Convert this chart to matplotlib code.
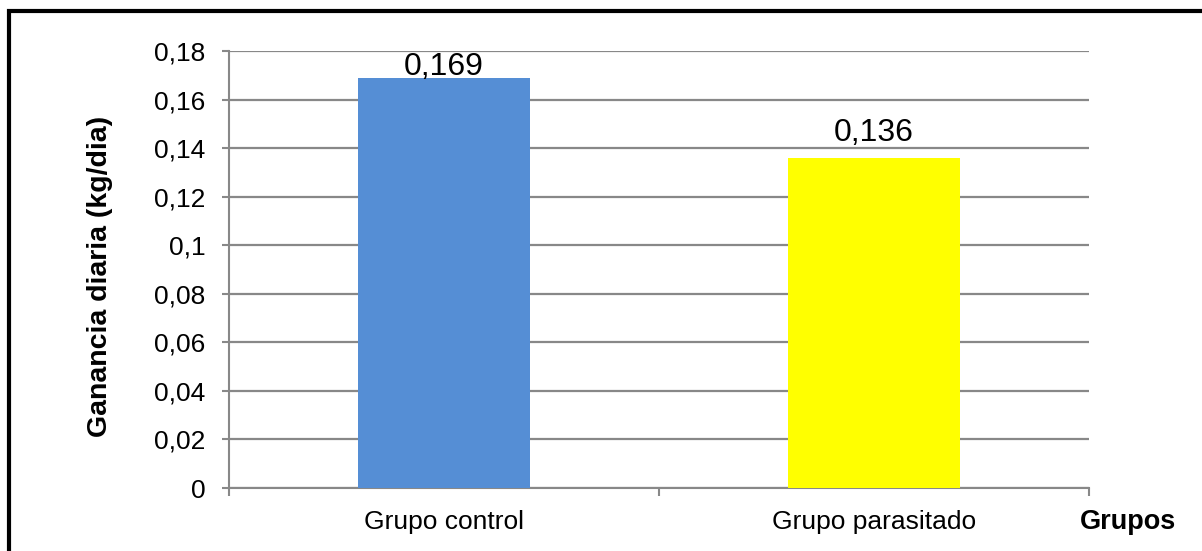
import matplotlib
matplotlib.use("Agg")
import matplotlib.pyplot as plt
from matplotlib.patches import Rectangle

plt.rcParams["font.family"] = ["Liberation Sans", "DejaVu Sans"]

# data
grupos = ["Grupo control", "Grupo parasitado"]
ganancia = [0.169, 0.136]
etiquetas = ["0,169", "0,136"]
colores = ["#558ED5", "#FFFF00"]
y_ticks = [0, 0.02, 0.04, 0.06, 0.08, 0.1, 0.12, 0.14, 0.16, 0.18]
y_tick_labels = ["0", "0,02", "0,04", "0,06", "0,08", "0,1", "0,12", "0,14", "0,16", "0,18"]

W, H = 1202, 551
fig = plt.figure(figsize=(W / 100, H / 100), dpi=100)
ax = fig.add_axes([229 / W, 1 - 488 / H, (1089 - 229) / W, (488 - 51) / H])

x = list(range(len(grupos)))
ax.bar(x, ganancia, width=0.4, color=colores, zorder=3)

ax.set_xlim(-0.5, 1.5)
ax.set_ylim(0, 0.18)
ax.set_yticks(y_ticks)
ax.set_yticklabels(y_tick_labels, fontsize=19)
ax.set_xticks(x)
ax.set_xticklabels(grupos, fontsize=19)
ax.set_xticks([-0.5, 0.5, 1.5], minor=True)
ax.tick_params(axis="x", which="major", length=0, pad=16)
ax.tick_params(axis="x", which="minor", length=6, width=1.5, color="#888888")
ax.tick_params(axis="y", length=5, width=1.5, color="#888888", pad=12)

ax.grid(axis="y", color="#888888", linewidth=1.6, zorder=0)
for side in ("top", "right"):
    ax.spines[side].set_visible(False)
for side in ("left", "bottom"):
    ax.spines[side].set_color("#888888")
    ax.spines[side].set_linewidth(1.5)

offsets = [2, 12]
for xi, val, txt, off in zip(x, ganancia, etiquetas, offsets):
    ax.annotate(txt, (xi, val), xytext=(0, off), textcoords="offset points",
                ha="center", va="baseline", fontsize=23, zorder=4)

ax.set_ylabel("Ganancia diaria (kg/dia)", fontsize=20.5, fontweight="bold")
ax.yaxis.set_label_coords(-(229 - 113) / (1089 - 229), 0.485)
fig.text(1128 / W, 1 - 522 / H, "Grupos", fontsize=19.5, fontweight="bold",
         ha="center", va="center")

# outer frame
fig.patches.append(Rectangle((8.5 / W, -0.1), 1.2, 1 - 10.5 / H + 0.1,
                             transform=fig.transFigure, fill=False,
                             edgecolor="black", linewidth=3))

fig.savefig("out.png", dpi=100)
